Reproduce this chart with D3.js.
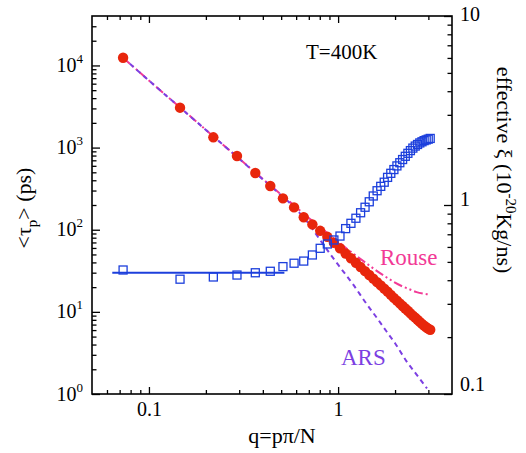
<!DOCTYPE html>
<html>
<head>
<meta charset="utf-8">
<script src="https://cdn.jsdelivr.net/npm/d3@7"></script>
<style>
  html,body{margin:0;padding:0;background:#fff;}
  svg text{font-family:"Liberation Serif","Times New Roman",Times,"DejaVu Serif","Noto Serif",serif !important;}
</style>
</head>
<body>
<svg id="chart" width="526" height="453"></svg>
<script>
// ---------- data ----------
// q = p*pi/N (N = 43), p = 1..42
const qValues = [0.073,0.146,0.219,0.292,0.365,0.438,0.511,0.585,0.658,0.731,
  0.804,0.877,0.950,1.023,1.096,1.169,1.242,1.315,1.388,1.461,
  1.534,1.607,1.680,1.753,1.826,1.899,1.972,2.046,2.119,2.192,
  2.265,2.338,2.411,2.484,2.557,2.630,2.703,2.776,2.849,2.922,
  2.995,3.068];
// <tau_p> (ps), left axis
const tauValues = [12400,3060,1334,790,490,341,241,187,142,116,
  97,82,69.5,59.5,51.4,45.0,39.6,35.1,31.3,28.1,
  25.4,23.0,21.0,19.2,17.6,16.1,14.8,13.7,12.7,11.8,
  11.0,10.3,9.6,9.0,8.5,8.0,7.55,7.15,6.8,6.5,
  6.25,6.05];
// effective zeta (1e-20 Kg/ns), right axis
const zetaValues = [0.453,0.405,0.416,0.426,0.438,0.446,0.472,0.492,0.505,0.544,
  0.590,0.622,0.653,0.685,0.750,0.800,0.851,0.910,0.973,1.040,
  1.116,1.190,1.255,1.320,1.400,1.471,1.540,1.610,1.674,1.740,
  1.810,1.877,1.940,2.000,2.050,2.090,2.130,2.160,2.190,2.210,
  2.230,2.250];
// Rouse curve (q, tau)
const rouseQ   = [0.073,0.1,0.15,0.2,0.3,0.4,0.5,0.6,0.7,0.8,0.9,1.0,1.2,1.4,1.6,1.8,2.0,2.2,2.4,2.6,2.8,3.07];
const rouseTau = [12400,6557,2917,1643,734,415,268,188,139,108,86.6,71.3,51.4,39.5,31.6,26.4,22.7,20.3,18.7,17.4,16.7,16.2];
// ARS curve (q, tau)
const arsQ   = [0.073,0.1,0.2,0.3,0.4,0.5,0.6,0.7,0.8,0.9,1.0,1.2,1.4,1.6,1.8,2.0,2.3,2.6,2.95];
const arsTau = [12400,6550,1640,730,410,262,178,118,76,52,37.5,21.6,12.9,8.5,5.8,4.15,2.5,1.72,1.17];
// constant friction line (right axis)
const flatQ    = [0.064,0.52];
const flatZeta = [0.438,0.438];

const xMajor = [0.1,1];
const xMinor = [0.06,0.07,0.08,0.09,0.2,0.3,0.4,0.5,0.6,0.7,0.8,0.9,2,3];
const yLMajor = [1,10,100,1000,10000];
const yLMinor = [2,3,4,5,6,7,8,9,20,30,40,50,60,70,80,90,200,300,400,500,600,700,800,900,
  2000,3000,4000,5000,6000,7000,8000,9000,20000,30000];
const yRMajor = [0.1,1,10];
const yRMinor = [0.2,0.3,0.4,0.5,0.6,0.7,0.8,0.9,2,3,4,5,6,7,8,9];
const yLLabels = ["0","1","2","3","4"];
const yRLabels = ["0.1","1","10"];
const xLabels = ["0.1","1"];

// ---------- layout ----------
const L=92, R=452, T=16, B=394;
const FONT = '"Liberation Serif","Times New Roman",Times,"DejaVu Serif","Noto Serif",serif';
const svg = d3.select("#chart");
const x  = d3.scaleLog().domain([0.05,4]).range([L,R]);
const yL = d3.scaleLog().domain([1,4e4]).range([B,T]);
const yR = d3.scaleLog().domain([0.1,10]).range([B,T]);

const C = {red:"#e8260c", blue:"#1c3fdc", pink:"#f23a96", purple:"#7c3fe2"};

// ---------- axes ----------
function styleAxis(g){
  g.attr("font-family",FONT);
  g.select(".domain").remove();
  g.selectAll(".tick line").attr("stroke","#000").attr("stroke-width",1.3);
}
// bottom
svg.append("g").attr("transform",`translate(0,${B})`)
  .call(d3.axisBottom(x).tickValues(xMinor).tickSize(-4).tickSizeOuter(0).tickFormat(""))
  .call(styleAxis);
const gxb = svg.append("g").attr("transform",`translate(0,${B})`)
  .call(d3.axisBottom(x).tickValues(xMajor).tickSize(-7).tickSizeOuter(0).tickFormat((d,i)=>xLabels[i]))
  .call(styleAxis);
gxb.selectAll(".tick text").attr("y",22).attr("dy",0).attr("font-size",20).attr("fill","#000");
// top
svg.append("g").attr("transform",`translate(0,${T})`)
  .call(d3.axisTop(x).tickValues(xMinor).tickSize(-4).tickSizeOuter(0).tickFormat(""))
  .call(styleAxis);
svg.append("g").attr("transform",`translate(0,${T})`)
  .call(d3.axisTop(x).tickValues(xMajor).tickSize(-7).tickSizeOuter(0).tickFormat(""))
  .call(styleAxis);
// left
svg.append("g").attr("transform",`translate(${L},0)`)
  .call(d3.axisLeft(yL).tickValues(yLMinor).tickSize(-4.5).tickSizeOuter(0).tickFormat(""))
  .call(styleAxis);
const gyl = svg.append("g").attr("transform",`translate(${L},0)`)
  .call(d3.axisLeft(yL).tickValues(yLMajor).tickSize(-8).tickSizeOuter(0).tickFormat(""))
  .call(styleAxis);
gyl.selectAll(".tick").each(function(d,i){
  const t = d3.select(this).select("text")
    .attr("x",-9).attr("dy",0).attr("y",6).attr("text-anchor","end")
    .attr("fill","#000").attr("font-size",20).text(null);
  t.append("tspan").text("10");
  t.append("tspan").attr("dy",-9).attr("font-size",13).text(yLLabels[i]);
});
// right
const yROff = [-4,0,4];
svg.append("g").attr("transform",`translate(${R},0)`)
  .call(d3.axisRight(yR).tickValues(yRMinor).tickSize(-4.5).tickSizeOuter(0).tickFormat(""))
  .call(styleAxis);
const gyr = svg.append("g").attr("transform",`translate(${R},0)`)
  .call(d3.axisRight(yR).tickValues(yRMajor).tickSize(-8).tickSizeOuter(0).tickFormat((d,i)=>yRLabels[i]))
  .call(styleAxis);
gyr.selectAll(".tick text").attr("x",8).attr("dy",0).attr("y",(d,i)=>yROff[i]).attr("font-size",20)
  .attr("fill","#000");

// frame
svg.append("rect").attr("x",L).attr("y",T).attr("width",R-L).attr("height",B-T)
  .attr("fill","none").attr("stroke","#000").attr("stroke-width",1.6);

// ---------- marks ----------
const plot = svg.append("g");
const lineL = d3.line().x(d=>x(d[0])).y(d=>yL(d[1])).curve(d3.curveMonotoneX);
const lineR = d3.line().x(d=>x(d[0])).y(d=>yR(d[1]));

plot.append("path").datum(rouseQ.map((q,i)=>[q,rouseTau[i]])).attr("d",lineL)
  .attr("fill","none").attr("stroke",C.pink).attr("stroke-width",2)
  .attr("stroke-dasharray","9,3,2,3,2,3");
plot.append("path").datum(arsQ.map((q,i)=>[q,arsTau[i]])).attr("d",lineL)
  .attr("fill","none").attr("stroke",C.purple).attr("stroke-width",2)
  .attr("stroke-dasharray","5,4");
plot.append("path").datum(flatQ.map((q,i)=>[q,flatZeta[i]])).attr("d",lineR)
  .attr("fill","none").attr("stroke",C.blue).attr("stroke-width",1.8);

plot.selectAll("circle.tau").data(qValues).enter().append("circle")
  .attr("cx",d=>x(d)).attr("cy",(d,i)=>yL(tauValues[i])).attr("r",5.2)
  .attr("fill",C.red);

plot.selectAll("rect.zeta").data(qValues).enter().append("rect")
  .attr("x",d=>x(d)-4).attr("y",(d,i)=>yR(zetaValues[i])-4)
  .attr("width",8).attr("height",8)
  .attr("fill","none").attr("stroke",C.blue).attr("stroke-width",1.3);

// ---------- texts ----------
const txt = svg.append("g").attr("font-family",FONT).attr("fill","#000");
txt.append("text").attr("x",306).attr("y",59).attr("font-size",21).text("T=400K");
txt.append("text").attr("x",380).attr("y",265).attr("font-size",23).attr("fill",C.pink).text("Rouse");
txt.append("text").attr("x",341).attr("y",365).attr("font-size",23).attr("fill",C.purple).text("ARS");

txt.append("text").attr("x",282).attr("y",443).attr("text-anchor","middle").attr("font-size",22).text("q=pπ/N");

const lt = txt.append("text").attr("transform","translate(31,208) rotate(-90)")
  .attr("text-anchor","middle").attr("font-size",22);
lt.append("tspan").text("<τ");
lt.append("tspan").attr("dy",6).attr("font-size",15).text("p");
lt.append("tspan").attr("dy",-6).text("> (ps)");

const rt = txt.append("text").attr("transform","translate(497,170) rotate(90)")
  .attr("text-anchor","middle").attr("font-size",22);
rt.append("tspan").text("effective ξ (10");
rt.append("tspan").attr("dy",-9).attr("font-size",15).text("-20");
rt.append("tspan").attr("dy",9).text("Kg/ns)");
</script>
</body>
</html>
